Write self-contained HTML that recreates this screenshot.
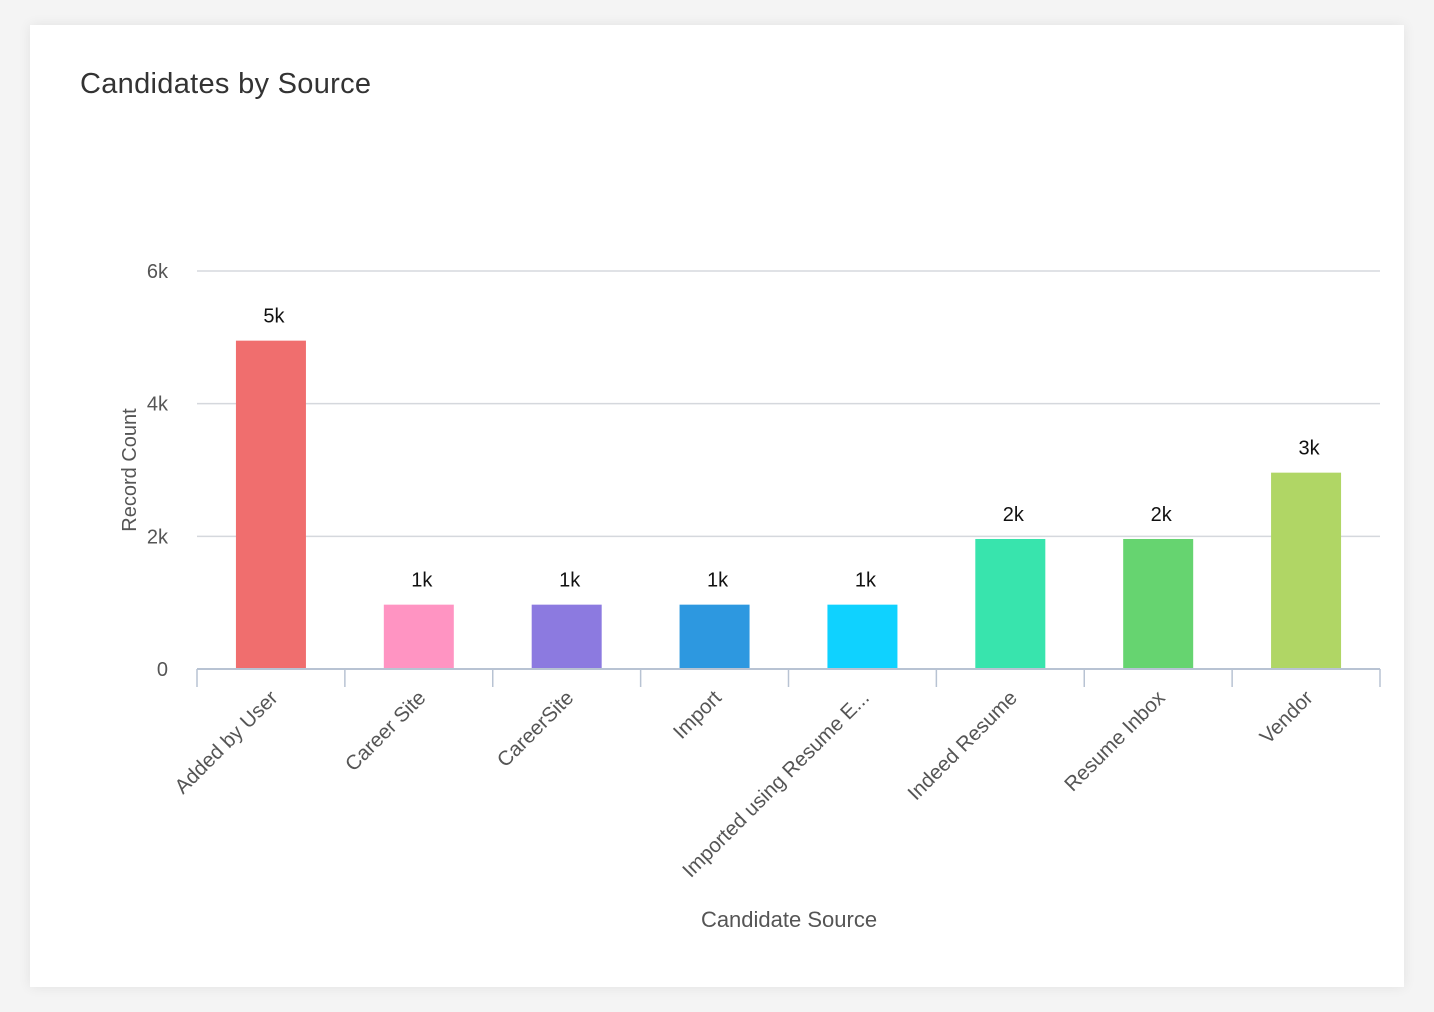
<!DOCTYPE html>
<html><head><meta charset="utf-8"><style>
html,body{margin:0;padding:0;width:1434px;height:1012px;background:#f4f4f4;overflow:hidden;font-family:"Liberation Sans",sans-serif}
#card{position:absolute;left:30px;top:25px;width:1374px;height:962px;background:#fff;box-shadow:0 0 12px rgba(0,0,0,0.08)}
#title{position:absolute;left:50px;top:43px;font-size:29px;color:#333;margin:0;font-weight:normal;letter-spacing:0.3px}
svg{position:absolute;left:0;top:0}
</style></head><body>
<div id="card">
<h1 id="title">Candidates by Source</h1>
</div>
<svg id="chart" width="1434" height="1012"></svg>
<script>
const categories=["Added by User","Career Site","CareerSite","Import","Imported using Resume E...","Indeed Resume","Resume Inbox","Vendor"];
const values=[4950,970,970,970,970,1960,1960,2960];
const valueLabels=["5k","1k","1k","1k","1k","2k","2k","3k"];
const colors=["#f06e6e","#ff94c2","#8c7ae0","#2d98e0","#0fd2ff","#38e4ad","#66d470","#b0d665"];
const yTicks=[0,2000,4000,6000];
const yTickLabels=["0","2k","4k","6k"];
const NS="http://www.w3.org/2000/svg";
const svg=document.getElementById('chart');
const x0=197,x1=1380,y0=669,yTop=271,yMax=6000;
const bw=(x1-x0)/categories.length;
const y=v=>y0-(v/yMax)*(y0-yTop);
const xc=i=>x0+bw*(i+0.5);
function mk(t,a,txt){const e=document.createElementNS(NS,t);for(const k in a)e.setAttribute(k,a[k]);if(txt!=null)e.textContent=txt;svg.appendChild(e);return e;}
yTicks.forEach((v,i)=>{
 if(v>0){const g=mk('line',{x1:x0,x2:x1,y1:y(v),y2:y(v),stroke:'#d5d8dd','stroke-width':1.5});
 
 }
 const t=mk('text',{x:168,y:y(v)+7,'text-anchor':'end','font-size':20,fill:'#555'},yTickLabels[i]);
 
 
});
categories.forEach((c,i)=>{
 const h=y0-y(values[i]);
 const r=mk('rect',{x:xc(i)-35,y:y(values[i]),width:70,height:h,fill:colors[i]});
 
 
 const vl=mk('text',{x:xc(i)+3,y:y(values[i])-18,'text-anchor':'middle','font-size':20,fill:'#111'},valueLabels[i]);
 
 
 const tl=mk('text',{x:xc(i)+8,y:y0+30,'text-anchor':'end','font-size':20.5,fill:'#555',transform:`rotate(-45 ${xc(i)+8} ${y0+30})`},c);
 
 
});
for(let i=0;i<=categories.length;i++){
 const tk=mk('line',{x1:x0+bw*i,x2:x0+bw*i,y1:y0,y2:y0+18,stroke:'#b8c3d3','stroke-width':1.5});
 
 
}
const ax=mk('line',{x1:x0,x2:x1,y1:y0,y2:y0,stroke:'#b8c3d3','stroke-width':2});


const yt=mk('text',{x:136,y:470,'text-anchor':'middle','font-size':20,fill:'#555',transform:'rotate(-90 136 470)'},'Record Count');


const xt=mk('text',{x:789,y:927,'text-anchor':'middle','font-size':22,fill:'#555'},'Candidate Source');


</script>
</body></html>
